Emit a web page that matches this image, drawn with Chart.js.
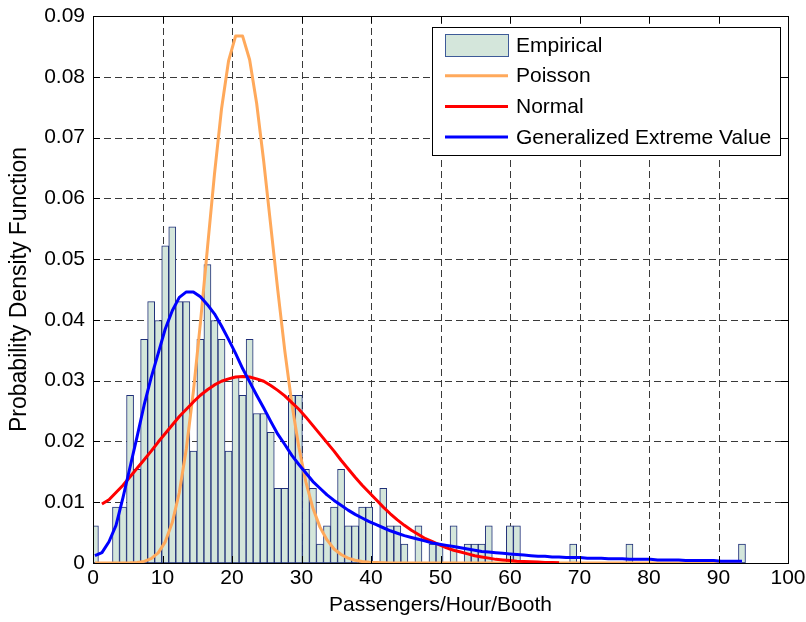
<!DOCTYPE html>
<html>
<head>
<meta charset="utf-8">
<title>Passengers per hour per booth - fitted distributions</title>
<script src="https://cdn.jsdelivr.net/npm/chart.js@4.4.1/dist/chart.umd.min.js"></script>
<style>
  html, body { margin: 0; padding: 0; background: #ffffff; }
  canvas { display: block; }
</style>
</head>
<body>
<canvas id="pdfChart" width="806" height="622"></canvas>
<script>
// Histogram binning (passengers/hour/booth): centre of the first bin and bin width
const binStart = 0.274;
const binWidth = 1.012;

// Normalised histogram heights, one value per bin
const empirical = [
  0.0061, 0, 0, 0.0092, 0.0092, 0.0276, 0.0154, 0.0368, 0.0430, 0.0399,
  0.0522, 0.0553, 0.0430, 0.0430, 0.0184, 0.0368, 0.0491, 0.0399, 0.0368, 0.0184,
  0.0307, 0.0276, 0.0368, 0.0246, 0.0246, 0.0215, 0.0123, 0.0123, 0.0276, 0.0276,
  0.0154, 0.0123, 0.0031, 0.0061, 0.0092, 0.0154, 0.0061, 0.0061, 0.0092, 0.0092,
  0, 0.0123, 0.0061, 0.0061, 0.0031, 0, 0.0061, 0, 0.0031, 0.0031,
  0, 0.0061, 0, 0.0031, 0.0031, 0.0031, 0.0061, 0, 0, 0.0061,
  0.0061, 0, 0, 0, 0, 0, 0, 0, 0.0031, 0,
  0, 0, 0, 0, 0, 0, 0.0031, 0, 0, 0,
  0, 0, 0, 0, 0, 0, 0, 0, 0, 0,
  0, 0, 0.0031
];

// Fitted Poisson density at each bin
const poisson = [
  0, 0, 0, 0, 0, 0.00003, 0.00009, 0.00027, 0.00071, 0.00166,
  0.00348, 0.00665, 0.0116, 0.0188, 0.0282, 0.0395, 0.0518, 0.0640, 0.0747, 0.0826,
  0.0867, 0.0867, 0.0828, 0.0756, 0.0661, 0.0555, 0.0449, 0.0349, 0.0262, 0.0190,
  0.0133, 0.0090, 0.0059, 0.0038, 0.0023, 0.0014, 0.0008, 0.00046, 0.00025, 0.00013,
  0.00007, 0.00003, 0, 0, 0, 0, 0, 0, 0, 0,
  0, 0, 0, 0, 0, 0, 0, 0, 0, 0,
  0, 0, 0, 0, 0, 0, 0, 0, 0, 0,
  0, 0, 0, 0, 0, 0, 0, 0, 0, 0,
  0, 0, 0, 0, 0, 0, 0, 0, 0, 0,
  0, 0, 0
];

// Fitted normal density at each bin (not drawn outside its plotted range)
const normal = [
  null, 0.0097, 0.0104, 0.0116, 0.0128, 0.0142, 0.0156, 0.0170, 0.0184, 0.0199,
  0.0213, 0.0227, 0.0241, 0.0253, 0.0265, 0.0276, 0.0285, 0.0293, 0.0299, 0.0303,
  0.0306, 0.0307, 0.0306, 0.0303, 0.0299, 0.0292, 0.0284, 0.0275, 0.0264, 0.0253,
  0.0240, 0.0226, 0.0212, 0.0198, 0.0184, 0.0169, 0.0155, 0.0141, 0.0128, 0.0116,
  0.0104, 0.0092, 0.0081, 0.0071, 0.0062, 0.0054, 0.0047, 0.0040, 0.0035, 0.0030,
  0.0025, 0.0021, 0.0018, 0.0015, 0.0012, 0.0010, 0.0008, 0.0006, 0.0005, 0.0004,
  0.0003, 0.00025, 0.0002, 0.00015, 0.0001, 0.00008, 0.00006, null, null, null,
  null, null, null, null, null, null, null, null, null, null,
  null, null, null, null, null, null, null, null, null, null,
  null, null, null
];

// Fitted generalized extreme value density at each bin
const gev = [
  0.0012, 0.0017, 0.0035, 0.0062, 0.0108, 0.0158, 0.0208, 0.0260, 0.0305, 0.0345,
  0.0385, 0.0415, 0.0437, 0.0446, 0.0446, 0.0438, 0.0425, 0.0410, 0.0390, 0.0368,
  0.0345, 0.0320, 0.0298, 0.0276, 0.0255, 0.0233, 0.0212, 0.0195, 0.0177, 0.0162,
  0.0148, 0.0134, 0.0123, 0.0112, 0.0103, 0.0095, 0.0087, 0.0080, 0.0074, 0.0068,
  0.0063, 0.0058, 0.0053, 0.0049, 0.0045, 0.0042, 0.0039, 0.0036, 0.0033, 0.0031,
  0.0029, 0.0027, 0.0025, 0.0023, 0.0021, 0.0019, 0.0018, 0.0017, 0.0016, 0.0015,
  0.0014, 0.0013, 0.0012, 0.0011, 0.0011, 0.0010, 0.0010, 0.0009, 0.0009, 0.0009,
  0.0008, 0.0008, 0.0008, 0.0007, 0.0007, 0.0007, 0.0006, 0.0006, 0.0006, 0.0006,
  0.0005, 0.0005, 0.0005, 0.0005, 0.0004, 0.0004, 0.0004, 0.0004, 0.0004, 0.0003,
  0.0003, 0.0003, 0.0003
];

// Axis ticks and their labels
const xTicks = [0, 10, 20, 30, 40, 50, 60, 70, 80, 90, 100];
const xTickLabels = ['0', '10', '20', '30', '40', '50', '60', '70', '80', '90', '100'];
const yTicks = [0, 0.01, 0.02, 0.03, 0.04, 0.05, 0.06, 0.07, 0.08, 0.09];
const yTickLabels = ['0', '0.01', '0.02', '0.03', '0.04', '0.05', '0.06', '0.07', '0.08', '0.09'];

const binCentres = empirical.map((_, i) => +(binStart + i * binWidth).toFixed(3));
const points = values => values.map((v, i) => ({ x: binCentres[i], y: v }));

const FONT = "'Liberation Sans', Arial, Helvetica, sans-serif";
Chart.defaults.font.family = FONT;
Chart.defaults.font.size = 21;
Chart.defaults.color = '#000000';

function strokeLine(ctx, x1, y1, x2, y2) {
  ctx.beginPath();
  ctx.moveTo(x1, y1);
  ctx.lineTo(x2, y2);
  ctx.stroke();
}

// Dashed grid under the data, boxed frame with inward tick marks on top
const boxedAxes = {
  id: 'boxedAxes',
  beforeDatasetsDraw(chart) {
    const { ctx, chartArea: a, scales: { x, y } } = chart;
    ctx.save();
    ctx.strokeStyle = '#3a3a3a';
    ctx.lineWidth = 1;
    ctx.setLineDash([7, 4]);
    x.ticks.forEach(t => {
      const px = Math.round(x.getPixelForValue(t.value)) + 0.5;
      if (px > a.left + 2 && px < a.right - 2) strokeLine(ctx, px, a.bottom, px, a.top);
    });
    y.ticks.forEach(t => {
      const py = Math.round(y.getPixelForValue(t.value)) + 0.5;
      if (py > a.top + 2 && py < a.bottom - 2) strokeLine(ctx, a.left, py, a.right, py);
    });
    ctx.restore();
  },
  afterDatasetsDraw(chart) {
    const { ctx, chartArea: a, scales: { x, y } } = chart;
    const tick = 7;
    ctx.save();
    ctx.strokeStyle = '#000000';
    ctx.lineWidth = 1;
    ctx.setLineDash([]);
    ctx.strokeRect(a.left + 0.5, a.top + 0.5, a.right - a.left, a.bottom - a.top);
    x.ticks.forEach(t => {
      const px = Math.round(x.getPixelForValue(t.value)) + 0.5;
      strokeLine(ctx, px, a.bottom, px, a.bottom - tick);
      strokeLine(ctx, px, a.top, px, a.top + tick);
    });
    y.ticks.forEach(t => {
      const py = Math.round(y.getPixelForValue(t.value)) + 0.5;
      strokeLine(ctx, a.left, py, a.left + tick, py);
      strokeLine(ctx, a.right, py, a.right - tick, py);
    });
    ctx.restore();
  }
};

// Boxed legend in the upper right corner of the plot
const insetLegend = {
  id: 'insetLegend',
  afterDraw(chart) {
    const { ctx, chartArea: a } = chart;
    const w = 348, h = 128;
    const x0 = Math.round(a.right - 8 - w), y0 = Math.round(a.top + 11);
    ctx.save();
    ctx.fillStyle = '#ffffff';
    ctx.fillRect(x0, y0, w, h);
    ctx.strokeStyle = '#000000';
    ctx.lineWidth = 1;
    ctx.strokeRect(x0 + 0.5, y0 + 0.5, w, h);
    ctx.font = '21px ' + FONT;
    ctx.textBaseline = 'middle';
    ctx.textAlign = 'left';
    chart.data.datasets.forEach((ds, i) => {
      const cy = y0 + 18 + i * 30.7;
      const sx = x0 + 13, sw = 63;
      if (ds.type === 'bar') {
        ctx.fillStyle = ds.backgroundColor;
        ctx.fillRect(sx, Math.round(cy) - 11, sw, 22);
        ctx.strokeStyle = ds.legendBorder;
        ctx.lineWidth = 1;
        ctx.strokeRect(sx + 0.5, Math.round(cy) - 10.5, sw, 22);
      } else {
        ctx.strokeStyle = ds.borderColor;
        ctx.lineWidth = ds.borderWidth;
        strokeLine(ctx, sx, cy, sx + sw, cy);
      }
      ctx.fillStyle = '#000000';
      ctx.fillText(ds.label, x0 + 84, cy + 1);
    });
    ctx.restore();
  }
};

new Chart(document.getElementById('pdfChart'), {
  type: 'bar',
  data: {
    datasets: [
      {
        type: 'bar',
        label: 'Empirical',
        data: points(empirical),
        backgroundColor: 'rgb(212, 230, 219)',
        borderColor: '#1f2f78',
        legendBorder: '#3d5a98',
        borderWidth: c => (c.raw && c.raw.y > 0 ? 1 : 0),
        borderSkipped: false,
        categoryPercentage: 1,
        barPercentage: 1,
        clip: 0,
        order: 4
      },
      {
        type: 'line',
        label: 'Poisson',
        data: points(poisson),
        borderColor: '#ffa95b',
        borderWidth: 3,
        pointRadius: 0,
        tension: 0,
        fill: false,
        borderJoinStyle: 'round',
        order: 3
      },
      {
        type: 'line',
        label: 'Normal',
        data: points(normal),
        borderColor: '#ff0000',
        borderWidth: 3,
        pointRadius: 0,
        tension: 0,
        fill: false,
        spanGaps: false,
        borderJoinStyle: 'round',
        order: 2
      },
      {
        type: 'line',
        label: 'Generalized Extreme Value',
        data: points(gev),
        borderColor: '#0000ff',
        borderWidth: 3,
        pointRadius: 0,
        tension: 0,
        fill: false,
        borderJoinStyle: 'round',
        order: 1
      }
    ]
  },
  options: {
    responsive: false,
    animation: false,
    devicePixelRatio: 1,
    layout: { padding: { left: 0, right: 18, top: 16, bottom: 0 } },
    plugins: {
      legend: { display: false },
      tooltip: { enabled: false },
      title: { display: false }
    },
    scales: {
      x: {
        type: 'linear',
        min: 0,
        max: 100,
        offset: false,
        afterBuildTicks: s => { s.ticks = xTicks.map(v => ({ value: v })); },
        afterFit: s => { s.height = 59; s.paddingLeft = 0; s.paddingRight = 0; },
        ticks: {
          autoSkip: false,
          maxRotation: 0,
          padding: 3,
          color: '#000000',
          callback: (v, i) => xTickLabels[i]
        },
        grid: { display: false, drawTicks: false, offset: false },
        border: { display: false },
        title: {
          display: true,
          text: 'Passengers/Hour/Booth',
          color: '#000000',
          padding: { top: 0, bottom: 4 }
        }
      },
      y: {
        type: 'linear',
        min: 0,
        max: 0.09,
        afterBuildTicks: s => { s.ticks = yTicks.map(v => ({ value: v })); },
        afterFit: s => { s.width = 93; s.paddingTop = 0; s.paddingBottom = 0; },
        ticks: {
          autoSkip: false,
          padding: 8,
          color: '#000000',
          callback: (v, i) => yTickLabels[i]
        },
        grid: { display: false, drawTicks: false },
        border: { display: false },
        title: {
          display: true,
          text: 'Probability Density Function',
          color: '#000000',
          font: { size: 23 },
          padding: { top: 6, bottom: 0 }
        }
      }
    }
  },
  plugins: [boxedAxes, insetLegend]
});
</script>
</body>
</html>
